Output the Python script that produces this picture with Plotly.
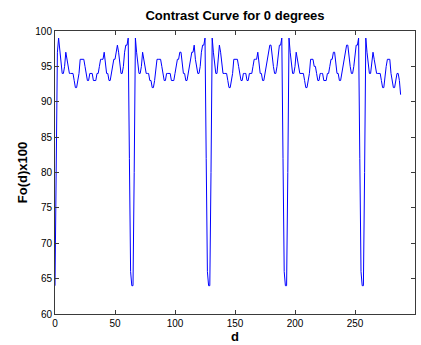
import plotly.graph_objects as go

# Contrast values Fo(d) x 100 for distances d = 0 .. 288
fo_period_1 = [64, 80, 97, 99, 97, 95, 94, 94, 95, 97,
               96, 95, 94, 94, 94, 94, 93, 92, 92, 93,
               94, 96, 96, 96, 96, 95, 94, 93, 93, 94,
               94, 94, 93, 93, 93, 94, 94, 95, 96, 96,
               96, 97, 95, 94, 94, 93, 93, 94, 95, 96,
               96, 97, 98, 97, 95, 94, 94, 95, 97, 98,
               98, 99, 82, 66]
fo_period_2 = [64, 64, 80, 99, 97, 95, 94, 94, 95, 97,
               96, 95, 94, 94, 94, 93, 93, 92, 92, 93,
               95, 96, 96, 96, 96, 95, 94, 93, 93, 94,
               94, 94, 94, 93, 93, 93, 94, 95, 96, 96,
               97, 97, 95, 94, 94, 93, 93, 94, 95, 96,
               97, 97, 98, 96, 95, 94, 94, 95, 97, 98,
               98, 99, 82, 66]
fo_period_3 = [64, 64, 80, 99, 97, 95, 94, 94, 96, 98,
               97, 95, 94, 94, 94, 94, 93, 92, 92, 93,
               94, 96, 96, 96, 96, 95, 94, 93, 93, 94,
               94, 94, 93, 93, 94, 94, 94, 95, 96, 96,
               96, 97, 95, 94, 94, 93, 93, 94, 95, 96,
               97, 98, 98, 96, 95, 94, 94, 95, 97, 98,
               98, 99, 82, 66]
fo_period_4 = [64, 64, 80, 99, 97, 95, 94, 94, 95, 97,
               96, 95, 94, 94, 94, 94, 93, 92, 92, 93,
               94, 96, 96, 96, 95, 95, 94, 93, 93, 94,
               94, 94, 93, 93, 93, 94, 94, 95, 96, 96,
               97, 97, 95, 94, 94, 93, 93, 94, 95, 96,
               97, 98, 98, 96, 95, 94, 94, 95, 97, 98,
               98, 99, 82, 66]
fo_tail = [64, 64, 80, 99, 97, 95, 94, 94, 96, 97,
           96, 95, 94, 94, 94, 94, 93, 92, 92, 94,
           95, 96, 96, 96, 94, 93, 92, 92, 93, 94,
           94, 93, 91]

fo_values = fo_period_1 + fo_period_2 + fo_period_3 + fo_period_4 + fo_tail
d_values = list(range(len(fo_values)))

x_ticks = [0, 50, 100, 150, 200, 250, 300]
y_ticks = [60, 65, 70, 75, 80, 85, 90, 95, 100]

font_family = "Liberation Sans, Arial, sans-serif"

fig = go.Figure(
    go.Scatter(
        x=d_values,
        y=fo_values,
        mode="lines",
        line=dict(color="#0000ff", width=1),
        hoverinfo="x+y",
    )
)

axis_style = dict(
    showline=True,
    mirror="ticks",
    linecolor="#3a3a3a",
    linewidth=1,
    ticks="inside",
    ticklen=4,
    tickwidth=1,
    tickcolor="#3a3a3a",
    showgrid=False,
    zeroline=False,
    tickfont=dict(family=font_family, size=10, color="#000000"),
)

fig.update_layout(
    width=421,
    height=345,
    margin=dict(l=55, r=6, t=31, b=31),
    paper_bgcolor="#ffffff",
    plot_bgcolor="#ffffff",
    showlegend=False,
    title=dict(
        text="<b>Contrast Curve for 0 degrees</b>",
        x=0.5,
        xref="paper",
        xanchor="center",
        y=1,
        yref="container",
        yanchor="top",
        pad=dict(t=11),
        font=dict(family=font_family, size=13, color="#000000"),
    ),
    xaxis=dict(
        range=[0, 300],
        tickvals=x_ticks,
        title=dict(text="<b>d</b>", standoff=2,
                   font=dict(family=font_family, size=13, color="#000000")),
        **axis_style,
    ),
    yaxis=dict(
        range=[60, 100],
        tickvals=y_ticks,
        title=dict(text="<b>Fo(d)x100</b>", standoff=4,
                   font=dict(family=font_family, size=13, color="#000000")),
        **axis_style,
    ),
)

fig.write_html("out.html")
